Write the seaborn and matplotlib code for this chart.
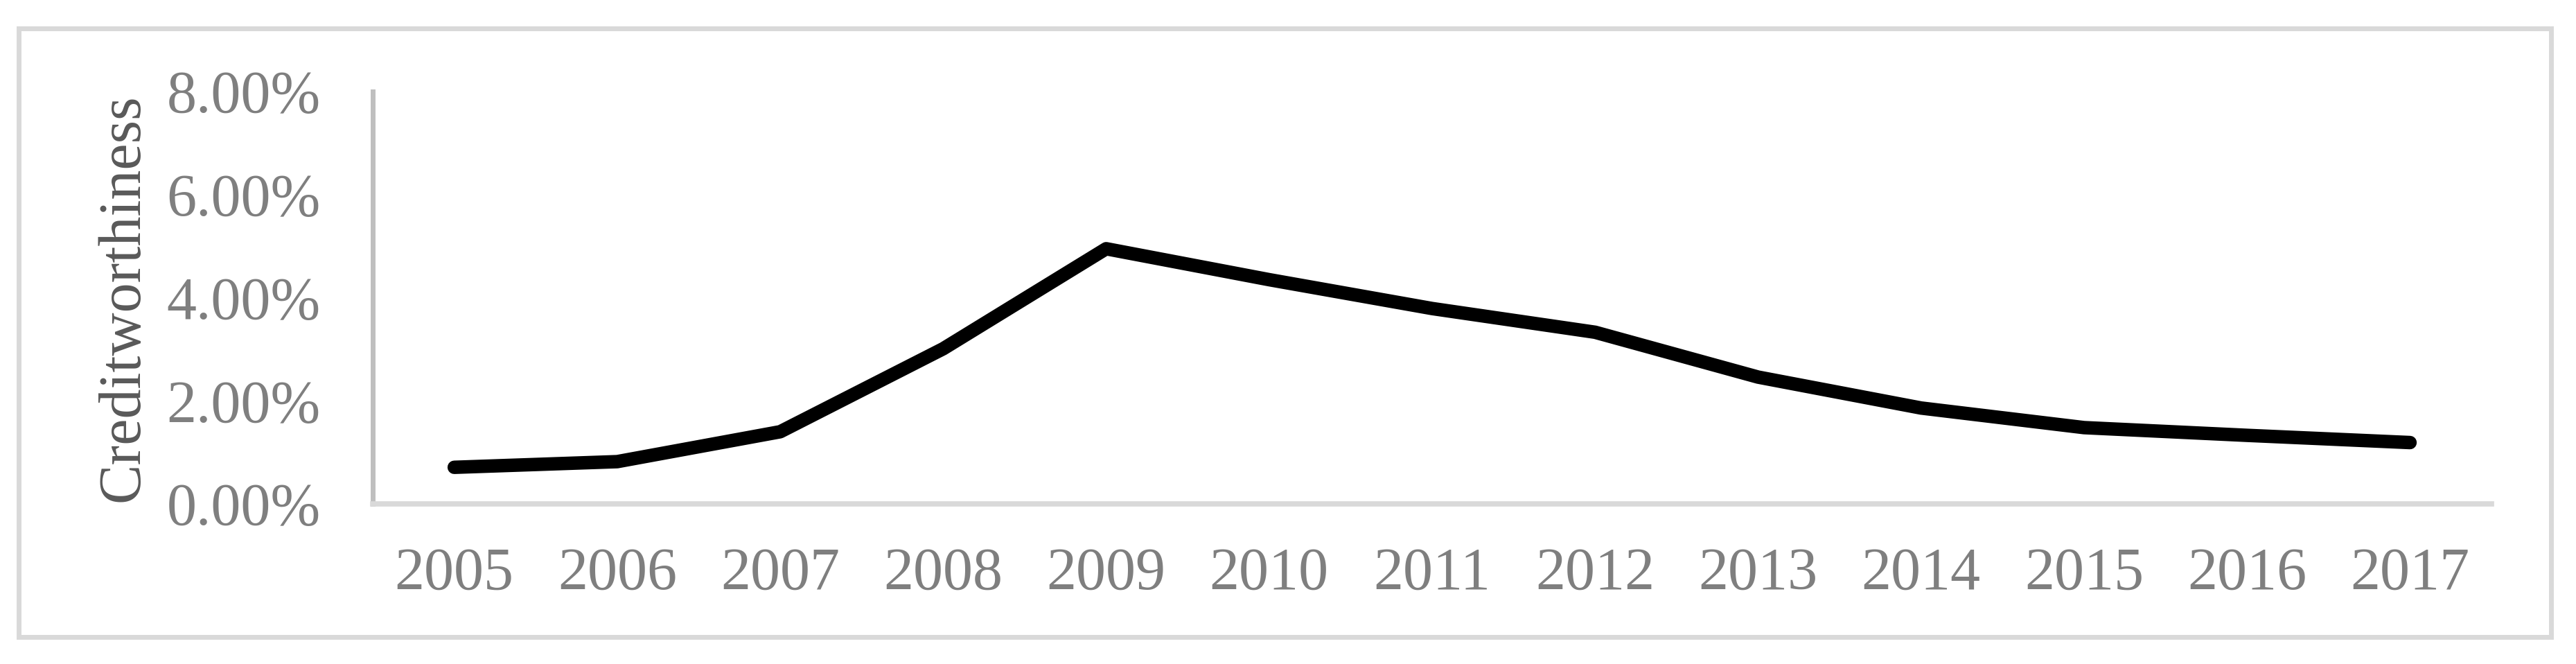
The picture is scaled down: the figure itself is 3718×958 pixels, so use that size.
import pandas as pd
import matplotlib.pyplot as plt
import seaborn as sns
from matplotlib.ticker import PercentFormatter
from matplotlib.patches import Rectangle

# values (percent)
years = ['2005', '2006', '2007', '2008', '2009', '2010', '2011',
         '2012', '2013', '2014', '2015', '2016', '2017']
creditworthiness = [0.71, 0.82, 1.40, 3.01, 4.95, 4.35, 3.79,
                    3.33, 2.46, 1.86, 1.48, 1.33, 1.19]
y_ticks = [0, 2, 4, 6, 8]

df = pd.DataFrame({'year': years, 'value': creditworthiness})

sns.set_style("white")
plt.rcParams['font.family'] = ['Liberation Serif', 'DejaVu Serif']

fig = plt.figure(figsize=(37.18, 9.58), dpi=100)
ax = fig.add_axes([0.1447, 0.2411, 0.8225, 0.6211])

sns.lineplot(data=df, x='year', y='value', ax=ax, color='black',
             linewidth=14, solid_capstyle='round', sort=False)

ax.set_xlim(-0.5, len(years) - 0.5)
ax.set_ylim(0, 8)
ax.set_yticks(y_ticks)
ax.yaxis.set_major_formatter(PercentFormatter(xmax=100, decimals=2))

ax.tick_params(axis='both', length=0, labelsize=62, labelcolor='#7f7f7f')
ax.tick_params(axis='y', pad=54)
ax.tick_params(axis='x', pad=45)

ax.set_xlabel('')
ax.set_ylabel('Creditworthiness', fontsize=62, color='#595959', labelpad=16)

for side in ['top', 'right']:
    ax.spines[side].set_visible(False)
ax.spines['left'].set_color('#bfbfbf')
ax.spines['left'].set_linewidth(5)
ax.spines['bottom'].set_color('#d9d9d9')
ax.spines['bottom'].set_linewidth(5.5)

# light grey frame around the whole chart
fig.patches.append(Rectangle((0.00713, 0.0402), 0.98332, 0.9175,
                             transform=fig.transFigure, fill=False,
                             edgecolor='#d9d9d9', linewidth=5))

fig.savefig('out.png', dpi=100, facecolor='white')
